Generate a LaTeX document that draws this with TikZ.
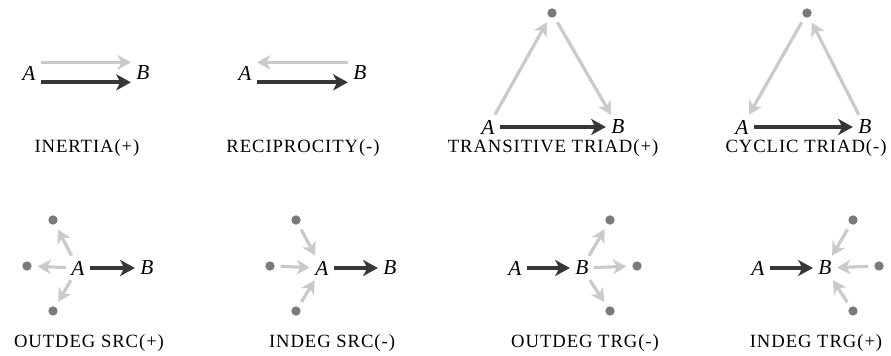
\documentclass[tikz,border=0pt]{standalone}
\usepackage{fontspec}
\setmainfont{Liberation Serif}
\newfontfamily\capfont[LetterSpace=5]{Liberation Serif}
\usetikzlibrary{arrows.meta,positioning}
\definecolor{tiedark}{RGB}{55,55,55}
\definecolor{tielight}{RGB}{202,202,202}
\definecolor{dotgray}{RGB}{122,122,122}

\begin{document}
\begin{tikzpicture}[x=0.75pt, y=-0.75pt,
    every node/.style={font=\fontsize{16}{16}\selectfont\itshape, inner sep=2pt},
    dotnode/.style={circle, fill=dotgray, inner sep=0pt, minimum size=7pt, outer sep=2.5pt},
    strongtie/.style={draw=tiedark, line width=3pt, shorten <=2pt, shorten >=2pt,
      -{Stealth[length=11pt,width=12pt,inset=3pt]}},
    weaktie/.style={draw=tielight, line width=2.4pt, shorten <=2pt, shorten >=2pt,
      -{Stealth[length=10pt,width=11pt,inset=3pt]}},
    caption/.style={font=\capfont\fontsize{14}{14}\selectfont, anchor=base}]
  \useasboundingbox (0,0) rectangle (891,356);

  % Inertia
  \node (inA) at (29,73) {A};
  \node (inB) at (143,73) {B};
  \draw[weaktie] ([yshift=8pt]inA.east) -- ([yshift=8pt]inB.west);
  \draw[strongtie] ([yshift=-7pt]inA.east) -- ([yshift=-7pt]inB.west);
  \node[caption] (inL) at (87,152) {INERTIA(+)};

  % Reciprocity
  \node (reA) at (245,73) {A};
  \node (reB) at (360,73) {B};
  \draw[weaktie] ([yshift=8pt]reB.west) -- ([yshift=8pt]reA.east);
  \draw[strongtie] ([yshift=-7pt]reA.east) -- ([yshift=-7pt]reB.west);
  \node[caption] (reL) at (303,152) {RECIPROCITY(-)};

  % Transitive triad
  \node (ttA) at (488,127) {A};
  \node (ttB) at (618,127) {B};
  \node[dotnode] (ttC) at (552,13) {};
  \draw[weaktie] (ttA) -- (ttC);
  \draw[weaktie] (ttC) -- (ttB);
  \draw[strongtie] (ttA) -- (ttB);
  \node[caption] (ttL) at (553,152) {TRANSITIVE TRIAD(+)};

  % Cyclic triad
  \node (ctA) at (742,127) {A};
  \node (ctB) at (865,127) {B};
  \node[dotnode] (ctC) at (807,13) {};
  \draw[weaktie] (ctC) -- (ctA);
  \draw[weaktie] (ctB) -- (ctC);
  \draw[strongtie] (ctA) -- (ctB);
  \node[caption] (ctL) at (806,152) {CYCLIC TRIAD(-)};

  % Outdegree source
  \node (osA) at (78,268) {A};
  \node (osB) at (147,268) {B};
  \node[dotnode] (ost) at (53,220) {};
  \node[dotnode] (osl) at (27,266) {};
  \node[dotnode] (osb) at (53,311) {};
  \foreach \d in {t,l,b}
    \draw[weaktie] (osA) -- (os\d);
  \draw[strongtie] (osA) -- (osB);
  \node[caption] (osL) at (89,347) {OUTDEG SRC(+)};

  % Indegree source
  \node (isA) at (322,268) {A};
  \node (isB) at (390,268) {B};
  \node[dotnode] (ist) at (296,220) {};
  \node[dotnode] (isl) at (270,266) {};
  \node[dotnode] (isb) at (296,311) {};
  \foreach \d in {t,l,b}
    \draw[weaktie] (is\d) -- (isA);
  \draw[strongtie] (isA) -- (isB);
  \node[caption] (isL) at (332,347) {INDEG SRC(-)};

  % Outdegree target
  \node (otA) at (515,268) {A};
  \node (otB) at (582,268) {B};
  \node[dotnode] (ott) at (610,220) {};
  \node[dotnode] (otr) at (637,266) {};
  \node[dotnode] (otb) at (610,311) {};
  \foreach \d in {t,r,b}
    \draw[weaktie] (otB) -- (ot\d);
  \draw[strongtie] (otA) -- (otB);
  \node[caption] (otL) at (585,347) {OUTDEG TRG(-)};

  % Indegree target
  \node (itA) at (758,268) {A};
  \node (itB) at (825,268) {B};
  \node[dotnode] (itt) at (853,220) {};
  \node[dotnode] (itr) at (879,266) {};
  \node[dotnode] (itb) at (853,311) {};
  \foreach \d in {t,r,b}
    \draw[weaktie] (it\d) -- (itB);
  \draw[strongtie] (itA) -- (itB);
  \node[caption] (itL) at (816,347) {INDEG TRG(+)};
\end{tikzpicture}
\end{document}
